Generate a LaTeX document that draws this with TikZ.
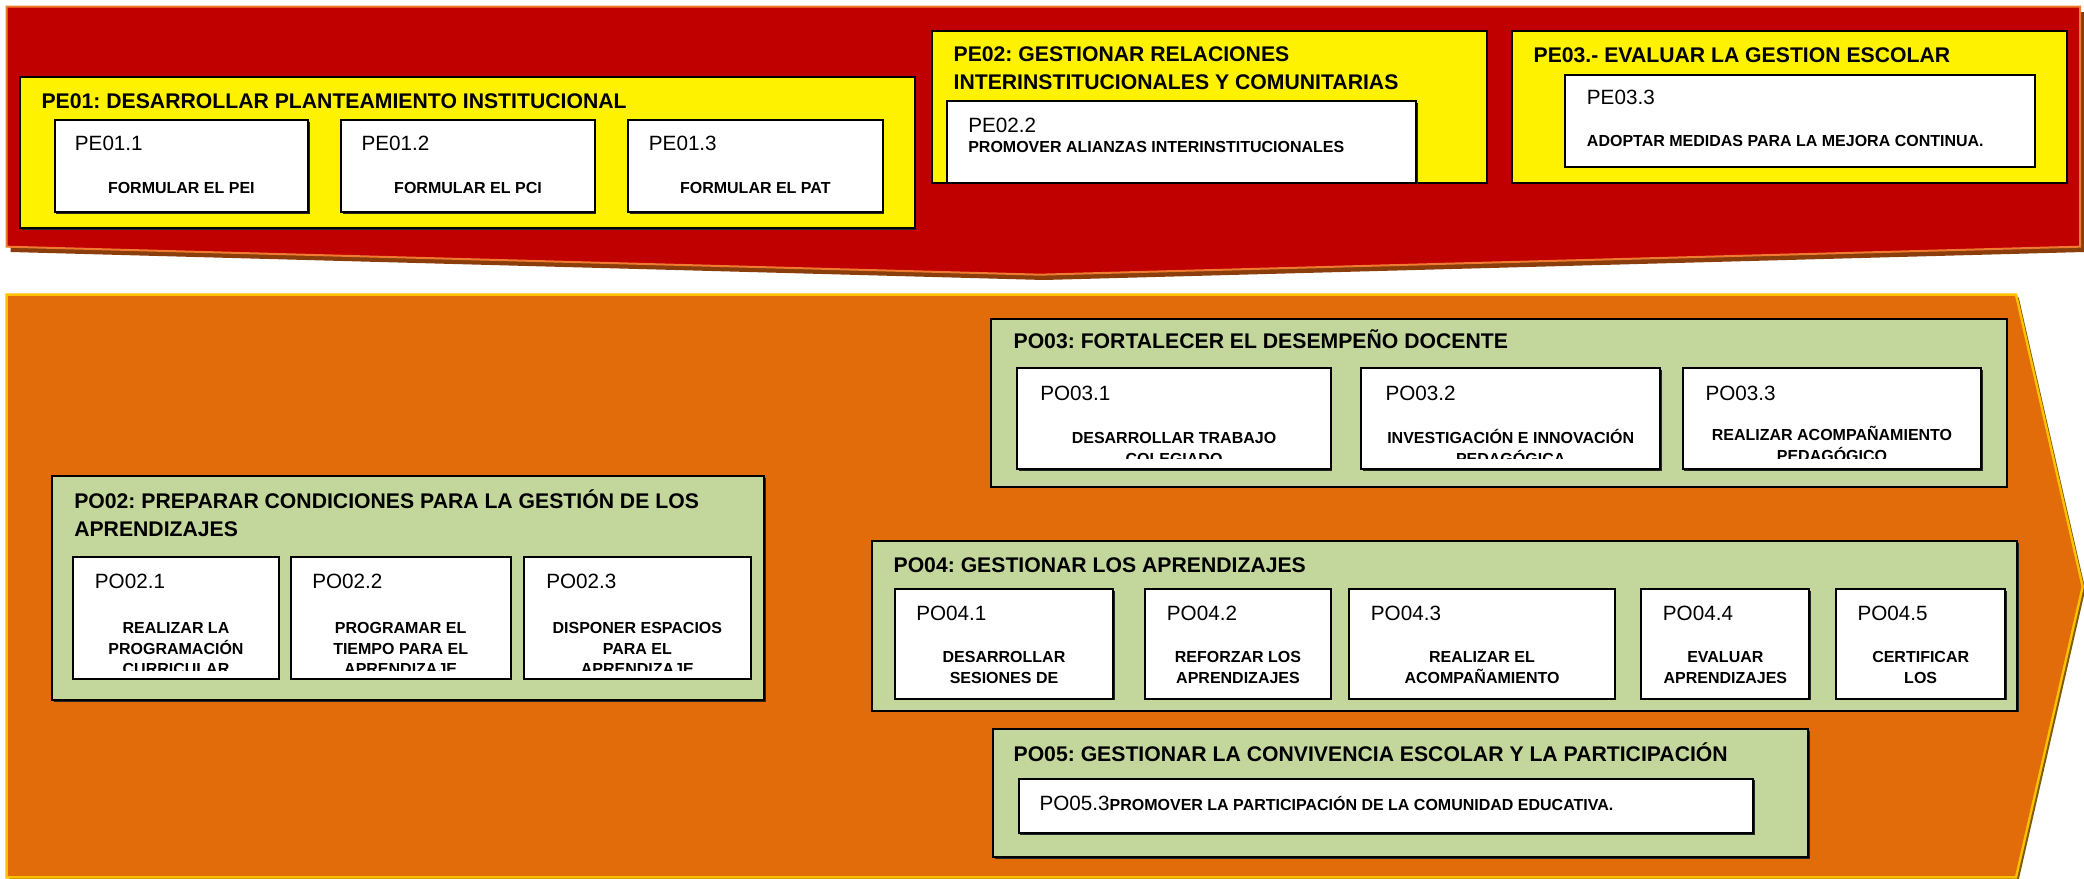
\documentclass[tikz,border=0pt]{standalone}
\usepackage{fontspec}
\setmainfont{Liberation Sans}
\frenchspacing
\usetikzlibrary{shadows}
\definecolor{bandred}{HTML}{C00000}
\definecolor{bandredline}{HTML}{EE7B30}
\definecolor{bandredshadow}{HTML}{8B3E0C}
\definecolor{bandorange}{HTML}{E26B0A}
\definecolor{bandorangeline}{HTML}{FFC000}
\definecolor{bandorangeshadow}{HTML}{7F5A00}
\definecolor{boxgreen}{HTML}{C3D69B}
\begin{document}
\begin{tikzpicture}[x=1pt, y=-1pt,
  boxshadow/.style={drop shadow={shadow xshift=1.2pt, shadow yshift=-1.2pt, fill=black!85, opacity=1}},
  yellowbox/.style={fill=yellow, draw=black, line width=1.4, boxshadow},
  greenbox/.style={fill=boxgreen, draw=black, line width=1.4, boxshadow},
  whitebox/.style={fill=white, draw=black, line width=1.4, boxshadow},
  titletext/.style={anchor=base west, inner sep=0, align=left, font=\fontsize{15.9}{21}\selectfont\bfseries},
  codetext/.style={anchor=base west, inner sep=0, font=\fontsize{15.5}{18}\selectfont},
  desctext/.style={anchor=base, inner sep=0, align=center, font=\fontsize{12}{15.5}\selectfont\bfseries}]
\useasboundingbox (0,0) rectangle (1563,658.5);

% Draw the two bands
\fill[bandredshadow, shift={(3,4)}] (5,5) -- (1560,5) -- (1560,185) -- (780,206) -- (5,185) -- cycle;
\draw[fill=bandred, draw=bandredline, line width=1.5] (5,5) -- (1560,5) -- (1560,185) -- (780,206) -- (5,185) -- cycle;
\fill[bandorangeshadow, shift={(2,2)}] (5,221) -- (1512,221) -- (1562,440) -- (1512,658) -- (5,658) -- cycle;
\draw[fill=bandorange, draw=bandorangeline, line width=1.8] (5,221) -- (1512,221) -- (1562,440) -- (1512,658) -- (5,658) -- cycle;

% Strategic processes (multi-line texts sit on their last line)
\draw[yellowbox] (15,58) rectangle (686,171);
\node[titletext] (pe01) at (31,81) {PE01: DESARROLLAR PLANTEAMIENTO INSTITUCIONAL};
\draw[whitebox] (41,90) rectangle (231,159);
\node[codetext] (pe011) at (56,112.5) {PE01.1};
\node[desctext] (pe011d) at (136,145) {FORMULAR EL PEI};
\draw[whitebox] (256,90) rectangle (446,159);
\node[codetext] (pe012) at (271,112.5) {PE01.2};
\node[desctext] (pe012d) at (351,145) {FORMULAR EL PCI};
\draw[whitebox] (471,90) rectangle (662,159);
\node[codetext] (pe013) at (486.5,112.5) {PE01.3};
\node[desctext] (pe013d) at (566.5,145) {FORMULAR EL PAT};

\draw[yellowbox] (699,23) rectangle (1115,137);
\node[titletext] (pe02) at (715,67) {PE02: GESTIONAR RELACIONES\\INTERINSTITUCIONALES Y COMUNITARIAS};
\draw[whitebox] (710,76) rectangle (1062,137);
\node[codetext] (pe022) at (726,99) {PE02.2};
\node[desctext, anchor=base west] (pe022d) at (726,114.5) {PROMOVER ALIANZAS INTERINSTITUCIONALES};

\draw[yellowbox] (1134,23) rectangle (1550,137);
\node[titletext] (pe03) at (1150,46.5) {PE03.- EVALUAR LA GESTION ESCOLAR};
\draw[whitebox] (1174,56) rectangle (1526,125);
\node[codetext] (pe033) at (1190,78) {PE03.3};
\node[desctext, anchor=base west] (pe033d) at (1190,110) {ADOPTAR MEDIDAS PARA LA MEJORA CONTINUA.};

% Operative processes
\draw[greenbox] (39,357) rectangle (573,525);
\node[titletext] (po02) at (55.5,402) {PO02: PREPARAR CONDICIONES PARA LA GESTIÓN DE LOS\\APRENDIZAJES};
\draw[whitebox] (55,418) rectangle (209,509);
\node[codetext] (po021) at (71,441) {PO02.1};
\begin{scope}
\clip (55,418) rectangle (209,503);
\node[desctext] (po021d) at (132,506) {REALIZAR LA\\PROGRAMACIÓN\\CURRICULAR};
\end{scope}
\draw[whitebox] (218,418) rectangle (383,509);
\node[codetext] (po022) at (234,441) {PO02.2};
\begin{scope}
\clip (218,418) rectangle (383,503);
\node[desctext] (po022d) at (300.5,506) {PROGRAMAR EL\\TIEMPO PARA EL\\APRENDIZAJE};
\end{scope}
\draw[whitebox] (393,418) rectangle (563,509);
\node[codetext] (po023) at (409.5,441) {PO02.3};
\begin{scope}
\clip (393,418) rectangle (563,503);
\node[desctext] (po023d) at (478,506) {DISPONER ESPACIOS\\PARA EL\\APRENDIZAJE};
\end{scope}

\draw[greenbox] (743,239) rectangle (1505,365);
\node[titletext] (po03) at (760,261) {PO03: FORTALECER EL DESEMPEÑO DOCENTE};
\draw[whitebox] (763,276) rectangle (998,352);
\node[codetext] (po031) at (780,300) {PO03.1};
\draw[whitebox] (1021,276) rectangle (1245,352);
\node[codetext] (po032) at (1039,300) {PO03.2};
\draw[whitebox] (1262,276) rectangle (1486,352);
\node[codetext] (po033) at (1279,300) {PO03.3};
\begin{scope}
\clip (743,276) rectangle (1505,344);
\node[desctext] (po031d) at (880.5,348) {DESARROLLAR TRABAJO\\COLEGIADO};
\node[desctext] (po032d) at (1133,348) {INVESTIGACIÓN E INNOVACIÓN\\PEDAGÓGICA};
\node[desctext] (po033d) at (1374,346) {REALIZAR ACOMPAÑAMIENTO\\PEDAGÓGICO};
\end{scope}

\draw[greenbox] (654,406) rectangle (1513,533);
\node[titletext] (po04) at (670,429) {PO04: GESTIONAR LOS APRENDIZAJES};
\draw[whitebox] (671,442) rectangle (835,524);
\node[codetext] (po041) at (687,465) {PO04.1};
\node[desctext] (po041d) at (753,512.5) {DESARROLLAR\\SESIONES DE};
\draw[whitebox] (859,442) rectangle (998,524);
\node[codetext] (po042) at (875,465) {PO04.2};
\node[desctext] (po042d) at (928.5,512.5) {REFORZAR LOS\\APRENDIZAJES};
\draw[whitebox] (1012,442) rectangle (1211,524);
\node[codetext] (po043) at (1028,465) {PO04.3};
\node[desctext] (po043d) at (1111.5,512.5) {REALIZAR EL\\ACOMPAÑAMIENTO};
\draw[whitebox] (1231,442) rectangle (1357,524);
\node[codetext] (po044) at (1247,465) {PO04.4};
\node[desctext] (po044d) at (1294,512.5) {EVALUAR\\APRENDIZAJES};
\draw[whitebox] (1377,442) rectangle (1504,524);
\node[codetext] (po045) at (1393,465) {PO04.5};
\node[desctext] (po045d) at (1440.5,512.5) {CERTIFICAR\\LOS};

\draw[greenbox] (745,547) rectangle (1356,643);
\node[titletext] (po05) at (760,571) {PO05: GESTIONAR LA CONVIVENCIA ESCOLAR Y LA PARTICIPACIÓN};
\draw[whitebox] (764,584) rectangle (1315,625);
\node[codetext] (po053) at (779.5,607.5) {PO05.3{\fontsize{12}{15}\selectfont\bfseries PROMOVER LA PARTICIPACIÓN DE LA COMUNIDAD EDUCATIVA.}};
\end{tikzpicture}
\end{document}
